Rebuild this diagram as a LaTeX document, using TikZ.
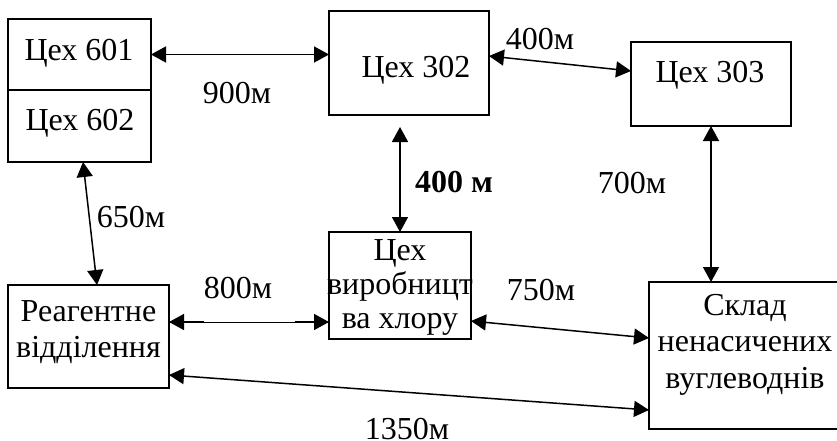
\documentclass[tikz,border=0pt]{standalone}
\usepackage{fontspec}
\setmainfont{Liberation Serif}
\usetikzlibrary{arrows.meta}
\begin{document}
\begin{tikzpicture}[x=1pt,y=-1pt,
  box/.style={draw=black,line width=1.5pt,rectangle,inner sep=0pt,outer sep=0pt},
  txt/.style={inner sep=0pt,outer sep=0pt,anchor=base,align=center,font=\fontsize{32}{35.5}\selectfont},
  conn/.style={line width=1.5pt,{Triangle[length=15pt,width=16pt]}-{Triangle[length=15pt,width=16pt]}},
  connL/.style={line width=1.5pt,{Triangle[length=15pt,width=16pt]}-},
  connR/.style={line width=1.5pt,-{Triangle[length=15pt,width=16pt]}},
  thinline/.style={line width=0.6pt}]
\useasboundingbox (0,0) rectangle (837,441);
\clip (0,0) rectangle (837,441);
% boxes
\node[box,minimum width=143pt,minimum height=71pt] (n601) at (79.5,54.5) {};
\node[box,minimum width=143pt,minimum height=72pt] (n602) at (79.5,126) {};
\node[box,minimum width=160pt,minimum height=104pt] (n302) at (409,63) {};
\node[box,minimum width=160pt,minimum height=84pt] (n303) at (711,84) {};
\node[box,minimum width=161pt,minimum height=103pt] (nre) at (88.5,336.5) {};
\node[box,minimum width=142pt,minimum height=107pt] (nchl) at (400,285.5) {};
\node[box,minimum width=192pt,minimum height=147pt] (nsk) at (745,355.5) {};
% box texts
\node[txt] (t601) at (79,61) {Цех 601};
\node[txt] (t602) at (80,131) {Цех 602};
\node[txt] (t302) at (416,78) {Цех 302};
\node[txt] (t303) at (710,83) {Цех 303};
\node[txt] (tre) at (88.5,357) {Реагентне\\відділення};
\node[txt,font=\fontsize{32}{34}\selectfont] (tchl) at (400,328) {Цех\\виробницт\\ва хлору};
\node[txt,font=\fontsize{32}{36.5}\selectfont] (tsk) at (745,388) {Склад\\ненасичених\\вуглеводнів};
% connectors
\draw[conn] (n601.east) -- (n302.west |- n601.east);
\draw[conn] ([yshift=-45pt]n302.north east) -- ([yshift=-29pt]n303.north west);
\draw[conn] ([yshift=-12pt]nchl.north |- n302.south) -- (nchl.north);
\draw[conn] (n303.south) -- (nsk.north -| n303.south);
\draw[conn] ([xshift=3.5pt]n602.south) -- ([xshift=8.5pt]nre.north);
\coordinate (a8) at ([yshift=14.5pt]nre.east);
\coordinate (b8) at (nchl.west |- a8);
\draw[thinline] (a8) -- (b8);
\draw[connL] (a8) -- ([xshift=35pt]a8);
\draw[connR] ([xshift=-34pt]b8) -- (b8);
\draw[conn] ([yshift=-35.5pt]nchl.east) -- ([yshift=17.5pt]nsk.west);
\draw[conn] ([yshift=-38.5pt]nre.east) -- ([yshift=-54.5pt]nsk.west);
% labels
\node[txt] (l900) at (237,103) {900м};
\node[txt] (l400a) at (540,50) {400м};
\node[txt] (l400b) at (454,192) {\textbf{400 м}};
\node[txt] (l700) at (632,193) {700м};
\node[txt] (l650) at (131,227) {650м};
\node[txt] (l800) at (238,298) {800м};
\node[txt] (l750) at (541,300) {750м};
\node[txt] (l1350) at (407,439) {1350м};
\end{tikzpicture}
\end{document}
